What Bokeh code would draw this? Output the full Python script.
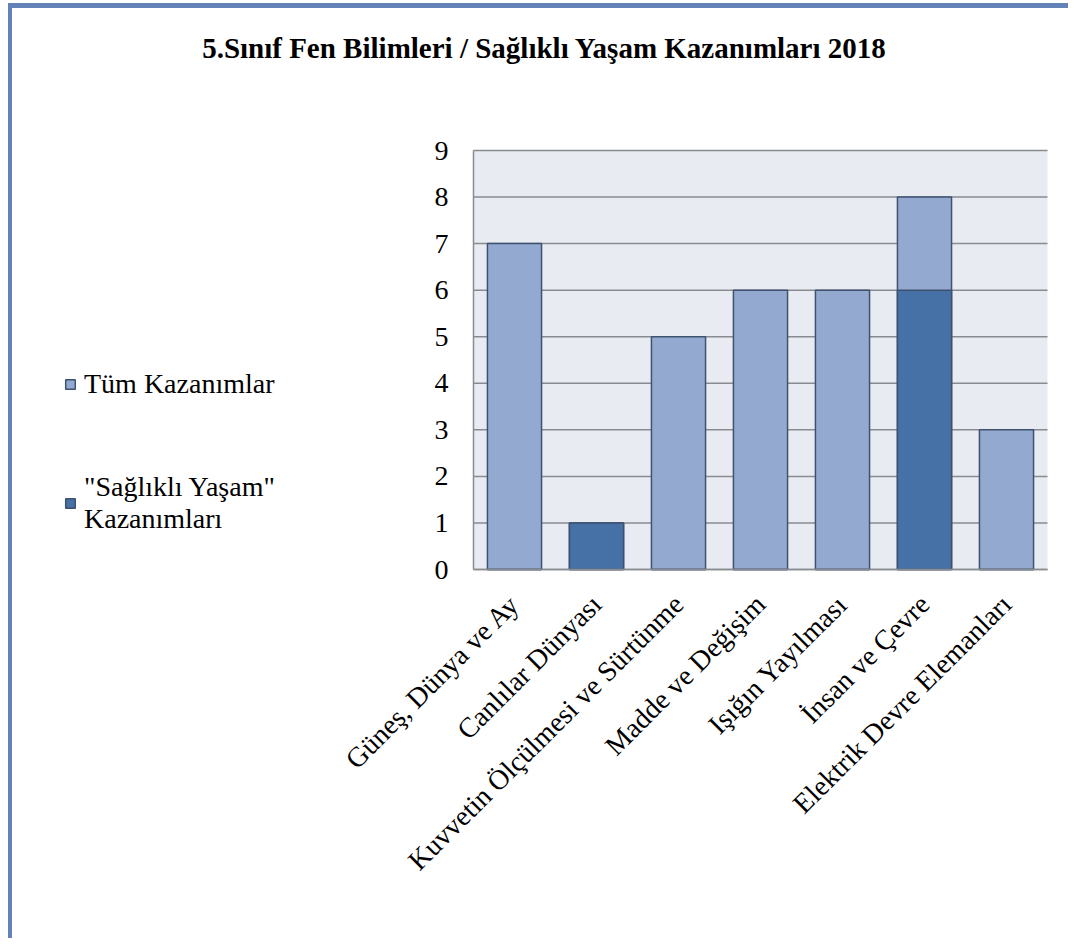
import math
from bokeh.plotting import figure
from bokeh.models import (ColumnDataSource, Range1d, Legend, LegendItem, FixedTicker, Label)
from bokeh.embed import file_html
from bokeh.resources import INLINE

title_text = "5.Sınıf Fen Bilimleri / Sağlıklı Yaşam Kazanımları 2018"
categories = ["Güneş, Dünya ve Ay", "Canlılar Dünyası", "Kuvvetin Ölçülmesi ve Sürtünme",
              "Madde ve Değişim", "Işığın Yayılması", "İnsan ve Çevre", "Elektrik Devre Elemanları"]
tum_kazanimlar = [7, 1, 5, 6, 6, 8, 3]
saglikli_yasam = [0, 1, 0, 0, 0, 6, 0]
series_names = ["Tüm Kazanımlar", "\"Sağlıklı Yaşam\"\nKazanımları"]
y_ticks = list(range(0, 10))

LIGHT = "#93a9cf"
DARK = "#4571a6"
EDGE = "#3e5270"
GRID = "#888b90"
BG = "#e8ecf2"
FONT = "Liberation Serif"

n = len(categories)
idx = list(range(n))
src = ColumnDataSource(dict(x=idx, cat=categories, tum=tum_kazanimlar, sag=saglikli_yasam))

# canvas geometry (px): plot area 461..1035 horizontally, 142..561 vertically
W, H = 1060, 935
PL, PR, PT, PB = 461, 1035, 142, 561
ymax = max(y_ticks)
cw = (PR - PL) / n
ppu = (PB - PT) / ymax
x0 = -0.5 - PL / cw
x1 = n - 0.5 + (W - PR) / cw
y0 = -(H - PB) / ppu
y1 = ymax + PT / ppu

p = figure(x_range=Range1d(x0, x1), y_range=Range1d(y0, y1),
           width=W, height=H, output_backend="svg", toolbar_location=None,
           min_border=0)
p.styles = {"border-left": "4px solid #6383b8", "border-top": "5px solid #6383b8",
            "margin-left": "8px", "margin-top": "3px"}
p.background_fill_color = "white"
p.border_fill_color = "white"
p.outline_line_color = None
p.xgrid.grid_line_color = None
p.ygrid.grid_line_color = None

# plot-area background and horizontal grid lines
p.quad(left=[-0.5], right=[n - 0.5], bottom=[0], top=[ymax], fill_color=BG, line_color=None)
p.segment(x0=[-0.5] * len(y_ticks), x1=[n - 0.5] * len(y_ticks), y0=y_ticks, y1=y_ticks,
          line_color=GRID, line_width=1.5)

r1 = p.vbar(x="x", top="tum", width=0.66, source=src, fill_color=LIGHT,
            line_color=EDGE, line_width=1.5)
r2 = p.vbar(x="x", top="sag", width=0.66, source=src, fill_color=DARK,
            line_color=EDGE, line_width=1.5)

p.yaxis.ticker = FixedTicker(ticks=y_ticks)
p.yaxis.fixed_location = -0.5
p.yaxis.bounds = (0, ymax)
p.xaxis.ticker = FixedTicker(ticks=idx)
p.xaxis.major_label_overrides = {i: c for i, c in zip(idx, categories)}
p.xaxis.fixed_location = 0
p.xaxis.bounds = (-0.5, n - 0.5)

for ax in (p.xaxis, p.yaxis):
    ax.axis_line_color = GRID
    ax.axis_line_width = 1.5
    ax.major_tick_line_color = None
    ax.minor_tick_line_color = None
    ax.major_label_text_font = FONT
    ax.major_label_text_color = "black"
    ax.major_label_text_font_size = "28px"

p.yaxis.major_label_standoff = 19
p.xaxis.major_label_orientation = math.pi / 4
p.xaxis.major_label_standoff = 24

title = Label(x=532, y=H - 39, x_units="screen", y_units="screen", text=title_text,
              text_font=FONT, text_font_size="29px", text_font_style="bold",
              text_color="black", text_align="center", text_baseline="middle")
p.add_layout(title)

legend = Legend(items=[LegendItem(label=series_names[0], renderers=[r1]),
                       LegendItem(label=series_names[1], renderers=[r2])],
                location=(52, H - 527), orientation="vertical",
                label_text_font=FONT, label_text_font_size="28px", label_text_color="black",
                glyph_width=12, glyph_height=12, spacing=71, label_standoff=8,
                border_line_color=None, background_fill_alpha=0, padding=0, margin=0)
p.add_layout(legend, "center")

open("out.html", "w").write(file_html(p, INLINE))
